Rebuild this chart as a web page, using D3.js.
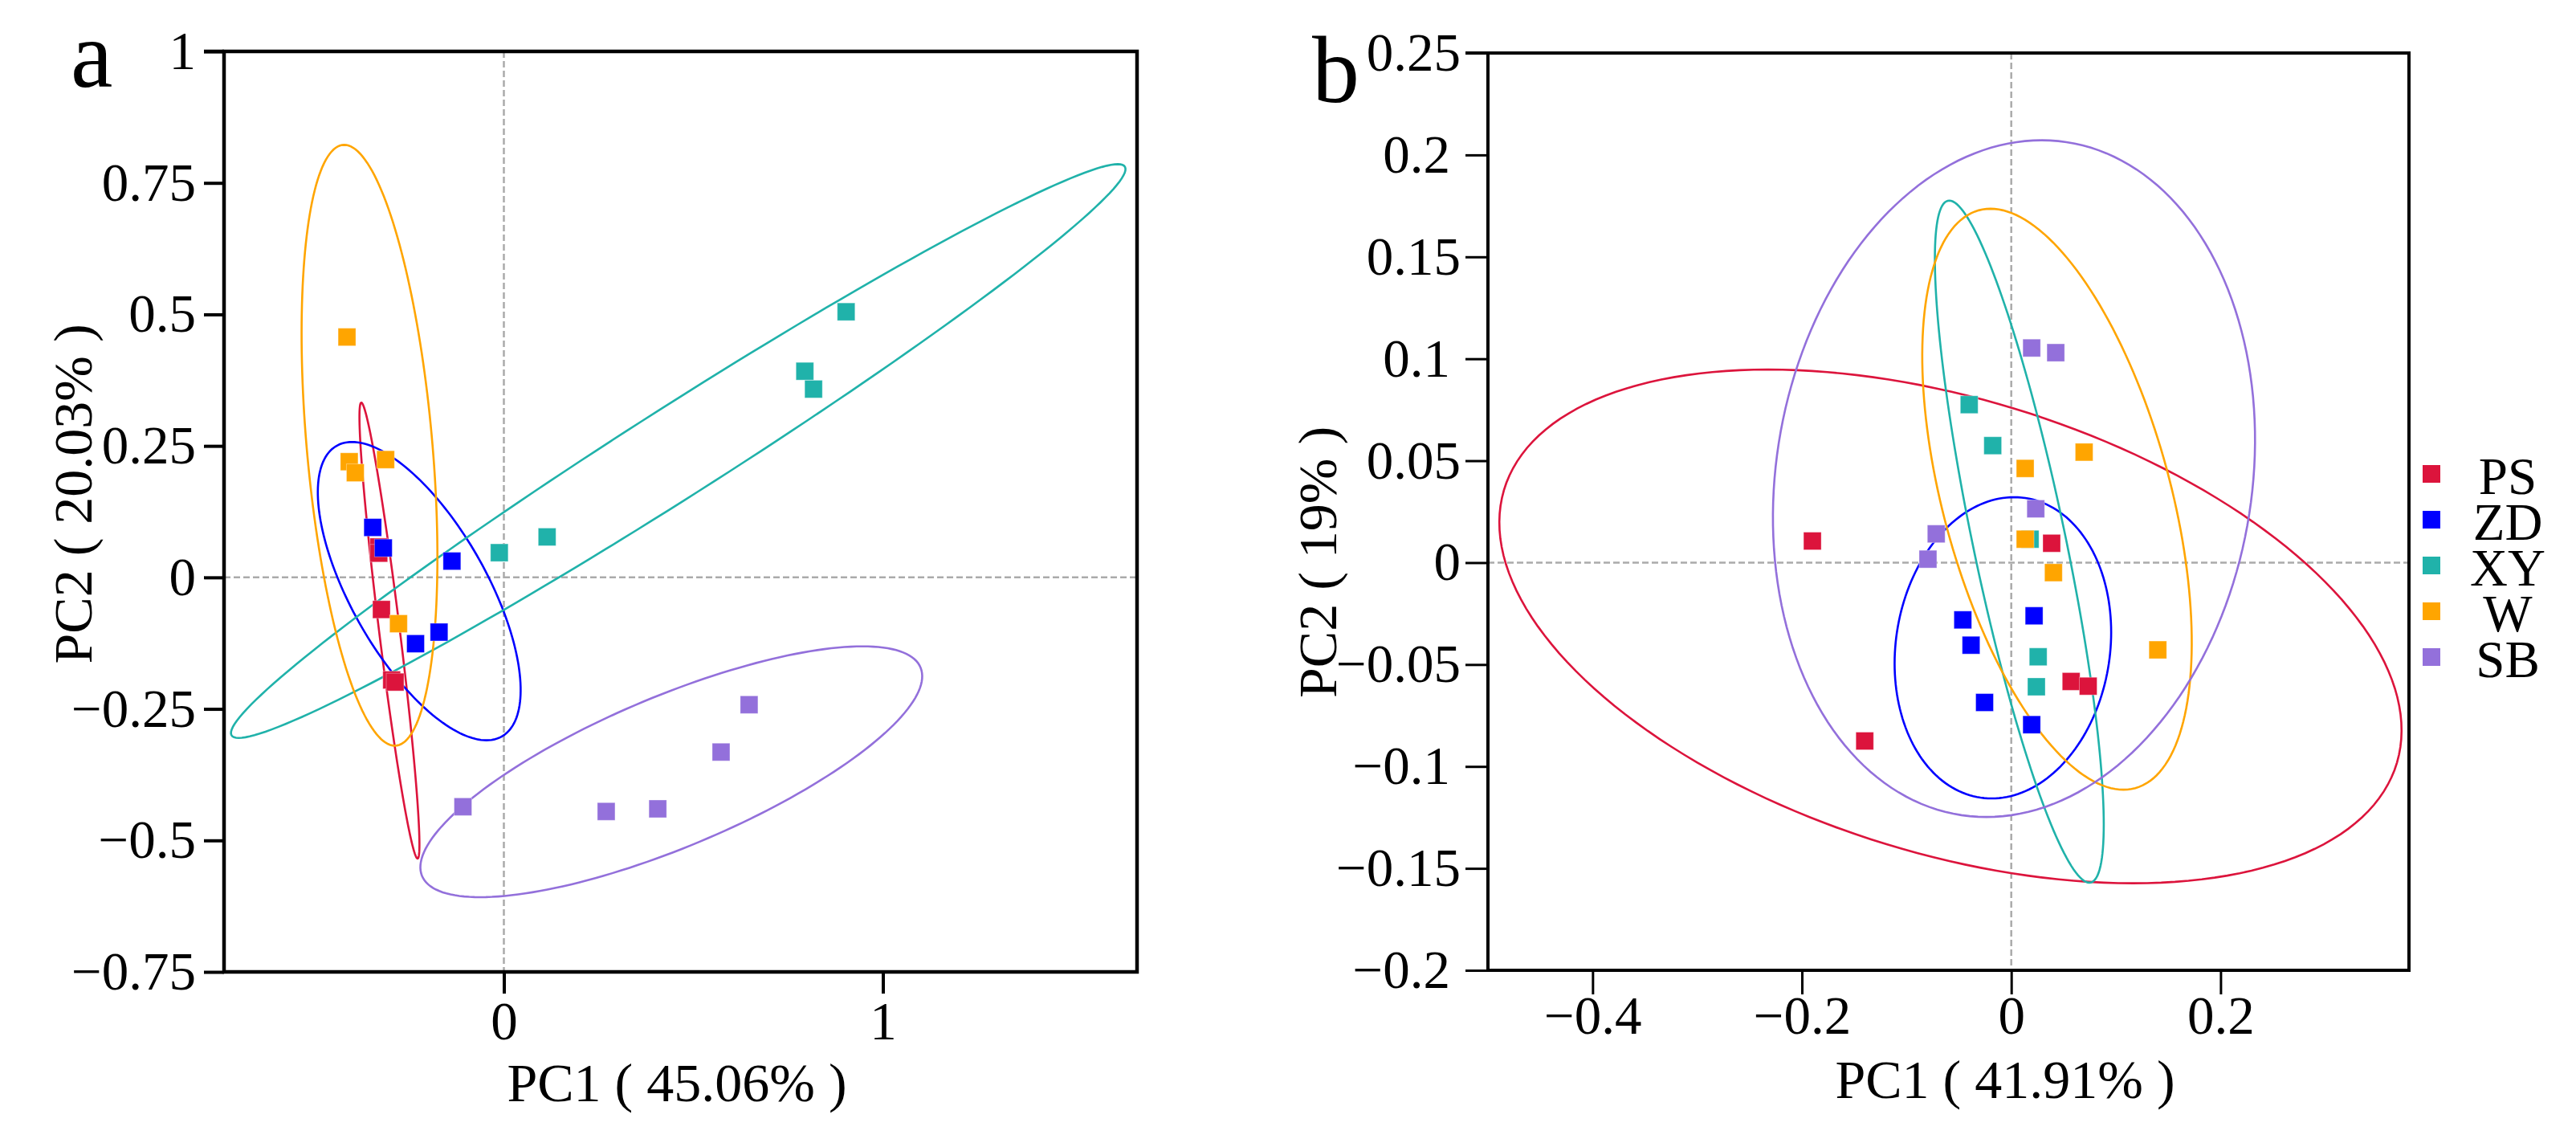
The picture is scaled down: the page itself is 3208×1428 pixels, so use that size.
<!DOCTYPE html>
<html>
<head>
<meta charset="utf-8">
<script src="https://cdn.jsdelivr.net/npm/d3@7/dist/d3.min.js"></script>
<style>
  html, body { margin: 0; padding: 0; background: #fff; }
  svg { display: block; }
  text { font-family: "Liberation Serif", "Times New Roman", serif; fill: #000; }
</style>
</head>
<body>
<svg id="chart" width="3208" height="1428"></svg>
<script>
// ---------- DATA ----------
const categories = ["PS", "ZD", "XY", "W", "SB"];
const groupColors = ["#DC143C", "#0000FF", "#20B2AA", "#FFA500", "#9370DB"];

// Panel a : PC1 (45.06%) vs PC2 (20.03%)
const aPS = [[-0.330, 0.058], [-0.330, 0.046], [-0.323, -0.061], [-0.296, -0.195], [-0.287, -0.199]];
const aZD = [[-0.346, 0.095], [-0.318, 0.056], [-0.137, 0.031], [-0.233, -0.126], [-0.171, -0.104]];
const aXY = [[-0.012, 0.047], [0.114, 0.077], [0.794, 0.392], [0.817, 0.358], [0.903, 0.505]];
const aW  = [[-0.414, 0.457], [-0.408, 0.220], [-0.392, 0.199], [-0.312, 0.224], [-0.278, -0.088]];
const aSB = [[-0.108, -0.436], [0.270, -0.445], [0.406, -0.440], [0.573, -0.332], [0.647, -0.242]];
// ellipses: [centerX, centerY, axis1X, axis1Y, axis2X, axis2Y] (conjugate semi-axes, data units)
const aEllipses = [
  [-0.3019, -0.1011, -0.0742, 0.4333, 0.0275, 0],
  [-0.2233, -0.0261, -0.1773, 0.2836, 0.2004, 0],
  [0.4600, 0.2402, 1.1597, 0.5454, 0.2182, 0],
  [-0.3545, 0.2512, -0.0667, 0.5711, 0.1663, 0],
  [0.4417, -0.3695, 0.5042, 0.2384, 0.4290, 0]
];
const aXTicks = [0, 1];
const aYTicks = [1, 0.75, 0.5, 0.25, 0, -0.25, -0.5, -0.75];
const aXTitle = "PC1 ( 45.06% )";
const aYTitle = "PC2 ( 20.03% )";

// Panel b : PC1 (41.91%) vs PC2 (19%)
const bPS = [[-0.190, 0.0106], [-0.140, -0.0875], [0.0386, 0.0095], [0.0572, -0.0583], [0.0735, -0.0606]];
const bZD = [[-0.0463, -0.0281], [-0.0384, -0.0405], [-0.0255, -0.0686], [0.0218, -0.0261], [0.0195, -0.0795]];
const bXY = [[-0.0402, 0.0775], [-0.0177, 0.0574], [0.0180, 0.0115], [0.0257, -0.0462], [0.0240, -0.0609]];
const bW  = [[0.0133, 0.0462], [0.0696, 0.0542], [0.0133, 0.0115], [0.0403, -0.0049], [0.140, -0.0428]];
const bSB = [[0.0195, 0.1053], [0.0425, 0.1030], [0.0234, 0.0264], [-0.0717, 0.0141], [-0.0796, 0.0017]];
const bEllipses = [
  [-0.0581, -0.0313, -0.1743, 0.1260, 0.3942, 0],
  [-0.0080, -0.0418, 0.0107, 0.0739, 0.1029, 0],
  [0.0077, 0.0103, -0.0669, 0.1673, 0.0451, 0],
  [0.0437, 0.0311, -0.0635, 0.1425, 0.1120, 0],
  [0.0026, 0.0412, 0.0264, 0.1660, 0.2288, 0]
];
const bXTicks = [-0.4, -0.2, 0, 0.2];
const bYTicks = [0.25, 0.2, 0.15, 0.1, 0.05, 0, -0.05, -0.1, -0.15, -0.2];
const bXTitle = "PC1 ( 41.91% )";
const bYTitle = "PC2 ( 19% )";

// ---------- DRAWING ----------
const svg = d3.select("#chart");
const FONT = "'Liberation Serif', 'Times New Roman', serif";
const fmt = v => String(v).replace("-", "\u2212");

function drawPanel(cfg) {
  const x = d3.scaleLinear().domain(cfg.xDomain).range([cfg.left, cfg.right]);
  const y = d3.scaleLinear().domain(cfg.yDomain).range([cfg.bottom, cfg.top]);
  const g = svg.append("g");

  // zero reference lines
  g.append("line")
    .attr("x1", x(0)).attr("x2", x(0)).attr("y1", cfg.top).attr("y2", cfg.bottom)
    .attr("stroke", "#ababab").attr("stroke-width", 2.5).attr("stroke-dasharray", "8,4");
  g.append("line")
    .attr("x1", cfg.left).attr("x2", cfg.right).attr("y1", y(0)).attr("y2", y(0))
    .attr("stroke", "#ababab").attr("stroke-width", 2.5).attr("stroke-dasharray", "8,4");

  // ellipses
  const ts = d3.range(0, 360, 2).map(d => d * Math.PI / 180);
  const line = d3.line().x(d => d[0]).y(d => d[1]).curve(d3.curveLinearClosed);
  cfg.ellipses.forEach((e, i) => {
    const pts = ts.map(t => [
      x(e[0] + e[2] * Math.cos(t) + e[4] * Math.sin(t)),
      y(e[1] + e[3] * Math.cos(t) + e[5] * Math.sin(t))
    ]);
    g.append("path").attr("d", line(pts))
      .attr("fill", "none").attr("stroke", groupColors[i]).attr("stroke-width", 2.6);
  });

  // points
  const S = 22;
  cfg.groups.forEach((pts, i) => {
    g.selectAll(null).data(pts).enter().append("rect")
      .attr("x", d => x(d[0]) - S / 2).attr("y", d => y(d[1]) - S / 2)
      .attr("width", S).attr("height", S)
      .attr("fill", groupColors[i])
      .attr("stroke", "#ffffff").attr("stroke-opacity", 0.35).attr("stroke-width", 1);
  });

  // axes
  const yAxis = d3.axisLeft(y).tickValues(cfg.yTicks).tickFormat(fmt)
    .tickSizeInner(cfg.yTickLen).tickSizeOuter(0).tickPadding(cfg.yPad);
  const ya = g.append("g").attr("transform", `translate(${cfg.left},0)`).call(yAxis);
  const xAxis = d3.axisBottom(x).tickValues(cfg.xTicks).tickFormat(fmt)
    .tickSizeInner(cfg.xTickLen).tickSizeOuter(0).tickPadding(cfg.xPad);
  const xa = g.append("g").attr("transform", `translate(0,${cfg.bottom})`).call(xAxis);
  [ya, xa].forEach(a => {
    a.select(".domain").remove();
    a.selectAll(".tick line").attr("stroke", "#000").attr("stroke-width", cfg.tickW);
    a.selectAll(".tick text").attr("font-family", FONT).attr("font-size", cfg.tickFont).attr("fill", "#000");
  });
  if (cfg.oneDecShift) {
    ya.selectAll(".tick text").attr("x", function(d) {
      const s = String(d);
      const dec = s.includes(".") ? s.split(".")[1].length : 0;
      return -(cfg.yTickLen + cfg.yPad + (dec === 1 ? cfg.oneDecShift : 0));
    });
  }

  // box
  g.append("rect")
    .attr("x", cfg.left).attr("y", cfg.top)
    .attr("width", cfg.right - cfg.left).attr("height", cfg.bottom - cfg.top)
    .attr("fill", "none").attr("stroke", "#000").attr("stroke-width", cfg.boxW);
  // top extension over the top tick
  g.append("line")
    .attr("x1", cfg.left - cfg.yTickLen).attr("x2", cfg.left)
    .attr("y1", cfg.top).attr("y2", cfg.top)
    .attr("stroke", "#000").attr("stroke-width", cfg.boxW);

  // titles
  g.append("text").attr("x", cfg.xTitleX).attr("y", cfg.xTitleY)
    .attr("text-anchor", "middle").attr("font-size", cfg.titleFont).attr("font-family", FONT)
    .text(cfg.xTitle);
  g.append("text")
    .attr("transform", `translate(${cfg.yTitleX},${cfg.yTitleY}) rotate(-90)`)
    .attr("text-anchor", "middle").attr("font-size", cfg.titleFont).attr("font-family", FONT)
    .text(cfg.yTitle);
  // panel letter
  g.append("text").attr("x", cfg.letterX).attr("y", cfg.letterY)
    .attr("font-size", 118).attr("font-family", FONT)
    .text(cfg.letter);
  return { x, y };
}

drawPanel({
  left: 279, right: 1416, top: 64, bottom: 1210,
  xDomain: [-0.7383, 1.6705], yDomain: [-0.75, 1],
  xTicks: aXTicks, yTicks: aYTicks,
  groups: [aPS, aZD, aXY, aW, aSB], ellipses: aEllipses,
  yTickLen: 25, xTickLen: 27, yPad: 10, xPad: 9, tickW: 4, boxW: 4.5, tickFont: 67,
  xTitle: aXTitle, yTitle: aYTitle, titleFont: 68,
  xTitleX: 843, xTitleY: 1371, yTitleX: 114, yTitleY: 615,
  letter: "a", letterX: 88, letterY: 108
});

drawPanel({
  left: 1853, right: 3000, top: 66, bottom: 1208,
  xDomain: [-0.5, 0.38], yDomain: [-0.2, 0.25],
  xTicks: bXTicks, yTicks: bYTicks,
  groups: [bPS, bZD, bXY, bW, bSB], ellipses: bEllipses,
  yTickLen: 28, xTickLen: 30, yPad: 6, xPad: 1, tickW: 3, boxW: 4, tickFont: 67,
  oneDecShift: 13,
  xTitle: bXTitle, yTitle: bYTitle, titleFont: 68,
  xTitleX: 2497, xTitleY: 1367, yTitleX: 1664, yTitleY: 700,
  letter: "b", letterX: 1634, letterY: 127
});

// legend
const legendY = d3.scalePoint().domain(categories).range([590, 818]);
const lg = svg.append("g");
categories.forEach((c, i) => {
  lg.append("rect").attr("x", 3017).attr("y", legendY(c) - 11)
    .attr("width", 22).attr("height", 22).attr("fill", groupColors[i]);
  lg.append("text").attr("x", 3123).attr("y", legendY(c) + 25)
    .attr("text-anchor", "middle").attr("font-size", 65).attr("font-family", FONT)
    .text(c);
});
</script>
</body>
</html>
